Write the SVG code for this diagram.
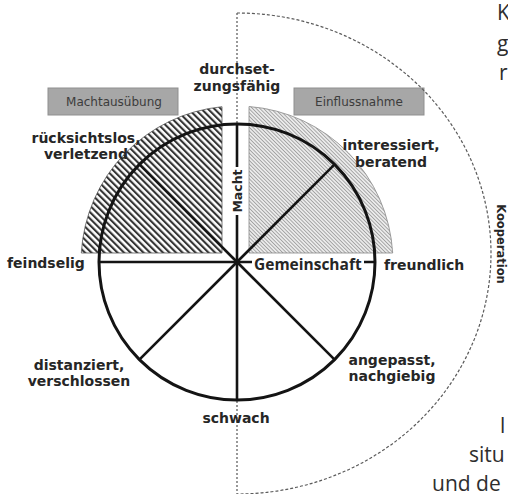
<svg xmlns="http://www.w3.org/2000/svg" width="508" height="494" viewBox="0 0 508 494">
<style>
.lbl{font-family:"DejaVu Sans",Verdana,sans-serif;font-weight:bold;font-size:14px;fill:#262626}
.box{fill:#a7a7a7;stroke:#8f8f8f;stroke-width:1}
.boxt{font-family:"DejaVu Sans",Verdana,sans-serif;font-size:12px;fill:#3c3c3c}
.spoke{stroke:#141414;stroke-width:2.6;fill:none}
.page{font-family:"Open Sans","Noto Sans",sans-serif;font-size:21px;fill:#2e2e2e}
.dash{fill:none;stroke:#5a5a5a;stroke-width:1.2;stroke-dasharray:3 2}
</style>
<defs>
<pattern id="hatchDark" patternUnits="userSpaceOnUse" width="4.6" height="4.6" patternTransform="rotate(-45)">
<rect width="4.6" height="4.6" fill="#ffffff"/>
<rect width="2.1" height="4.6" fill="#333333"/>
</pattern>
<pattern id="hatchLight" patternUnits="userSpaceOnUse" width="2.6" height="2.6" patternTransform="rotate(-45)">
<rect width="2.6" height="2.6" fill="#ececec"/>
<rect width="0.9" height="2.6" fill="#a0a0a0"/>
</pattern>
</defs>
<rect width="508" height="494" fill="#ffffff"/>

<g id="region-machtausuebung">
<path d="M222,253 L222,106.7 A156,156 0 0 0 81.3,253 Z" fill="url(#hatchDark)" stroke="#555" stroke-width="0.8"/>
</g>
<g id="region-einflussnahme">
<path d="M249,253 L249,106.5 A156,156 0 0 1 392.7,253 Z" fill="url(#hatchLight)" stroke="#888" stroke-width="0.8"/>
</g>

<g id="label-machtausuebung">
<rect class="box" x="48" y="88" width="130" height="27"/>
<text class="boxt" x="114" y="106" text-anchor="middle">Machtausübung</text>
</g>
<g id="label-einflussnahme">
<rect class="box" x="294" y="88" width="130" height="27"/>
<text class="boxt" x="359" y="106" text-anchor="middle">Einflussnahme</text>
</g>

<g id="connectors">
<path class="dash" d="M237,13 A254,240.5 0 0 1 237,494"/>
<line x1="237" y1="13" x2="237" y2="494" stroke="#555" stroke-width="1.2" stroke-dasharray="2 2"/>
<line class="spoke" x1="237" y1="262" x2="237" y2="124"/>
<line class="spoke" x1="237" y1="262" x2="237" y2="400"/>
<line class="spoke" x1="237" y1="262" x2="99" y2="262"/>
<line class="spoke" x1="237" y1="262" x2="375" y2="262"/>
<line class="spoke" x1="237" y1="262" x2="139.4" y2="164.4"/>
<line class="spoke" x1="237" y1="262" x2="334.6" y2="164.4"/>
<line class="spoke" x1="237" y1="262" x2="139.4" y2="359.6"/>
<line class="spoke" x1="237" y1="262" x2="334.6" y2="359.6"/>
<circle cx="237" cy="262" r="138" fill="none" stroke="#141414" stroke-width="3"/>
</g>

<g id="axis-macht">
<rect x="230" y="167" width="14" height="48" fill="#ffffff"/>
<text class="lbl" transform="translate(242,191) rotate(-90)" text-anchor="middle" style="font-size:12.5px">Macht</text>
</g>
<g id="axis-gemeinschaft">
<rect x="252" y="256" width="112" height="17" fill="#ffffff"/>
<text class="lbl" x="254" y="270" style="font-family:'Open Sans','Noto Sans',sans-serif;font-size:15.5px">Gemeinschaft</text>
</g>
<g id="axis-kooperation">
<text class="lbl" transform="translate(497,244) rotate(90)" text-anchor="middle" style="font-size:11.5px">Kooperation</text>
</g>

<g id="node-durchsetzungsfaehig">
<text class="lbl" x="237" y="74" text-anchor="middle">durchset-</text>
<text class="lbl" x="237" y="91" text-anchor="middle">zungsfähig</text>
</g>
<g id="node-ruecksichtslos">
<text class="lbl" x="86" y="143" text-anchor="middle">rücksichtslos,</text>
<text class="lbl" x="86" y="159" text-anchor="middle">verletzend</text>
</g>
<g id="node-interessiert">
<text class="lbl" x="391" y="150" text-anchor="middle">interessiert,</text>
<text class="lbl" x="391" y="167" text-anchor="middle">beratend</text>
</g>
<g id="node-feindselig">
<text class="lbl" x="7" y="268">feindselig</text>
</g>
<g id="node-freundlich">
<text class="lbl" x="384" y="270">freundlich</text>
</g>
<g id="node-distanziert">
<text class="lbl" x="79" y="370" text-anchor="middle">distanziert,</text>
<text class="lbl" x="79" y="386" text-anchor="middle">verschlossen</text>
</g>
<g id="node-angepasst">
<text class="lbl" x="392" y="365" text-anchor="middle">angepasst,</text>
<text class="lbl" x="392" y="381" text-anchor="middle">nachgiebig</text>
</g>
<g id="node-schwach">
<text class="lbl" x="236" y="423" text-anchor="middle">schwach</text>
</g>

<g id="page-text">
<text class="page" x="497" y="20">K</text>
<text class="page" x="497" y="51">g</text>
<text class="page" x="499" y="80">r</text>
<text class="page" x="500" y="433">l</text>
<text class="page" x="469" y="462">situ</text>
<text class="page" x="432" y="491">und de</text>
</g>
</svg>
